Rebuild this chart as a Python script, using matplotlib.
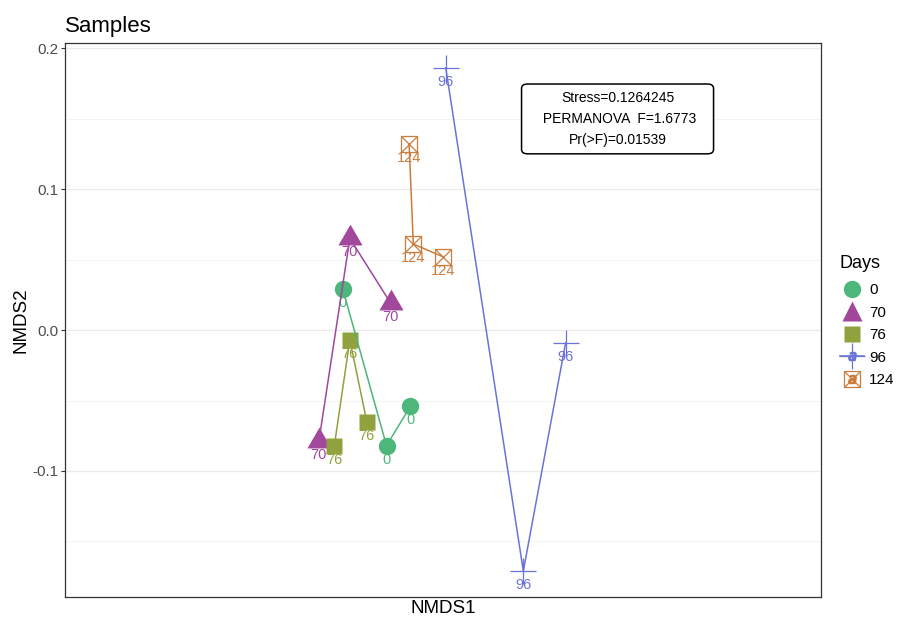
import matplotlib
matplotlib.use("Agg")
import matplotlib.pyplot as plt
from matplotlib.lines import Line2D
from matplotlib.patches import FancyBboxPatch
from matplotlib.legend_handler import HandlerTuple

plt.rcParams['font.family'] = ['Liberation Sans', 'DejaVu Sans']

# NMDS scores per sample, grouped by day (path order as drawn)
days = ['0', '70', '76', '96', '124']
nmds1 = {
    '0':   [-0.071, -0.040, -0.023],
    '70':  [-0.088, -0.066, -0.037],
    '76':  [-0.077, -0.066, -0.054],
    '96':  [0.002, 0.057, 0.087],
    '124': [-0.024, -0.021, 0.000],
}
nmds2 = {
    '0':   [0.029, -0.082, -0.054],
    '70':  [-0.079, 0.065, 0.019],
    '76':  [-0.082, -0.007, -0.065],
    '96':  [0.186, -0.171, -0.009],
    '124': [0.132, 0.061, 0.052],
}
colors = {'0': '#4DB67B', '70': '#A1479C', '76': '#8FA23D',
          '96': '#6B74D6', '124': '#CC7B3B'}
stress_text = "Stress=0.1264245\n PERMANOVA  F=1.6773\nPr(>F)=0.01539"

# triangle centred on its centroid, like ggplot's shape 17
tri = [(0, 1), (-0.866, -0.5), (0.866, -0.5), (0, 1)]

fig = plt.figure(figsize=(9.01, 6.19), dpi=100)
ax = fig.add_axes([0.0721, 0.0355, 0.8390, 0.8950])

def draw_marker(day, x, y):
    c = colors[day]
    if day == '0':
        ax.plot(x, y, 'o', ms=12.5, color=c, mec='none', zorder=3)
    elif day == '70':
        ax.plot(x, y, ls='none', marker=tri, ms=20, color=c, mec='none', zorder=3)
    elif day == '76':
        ax.plot(x, y, 's', ms=12, color=c, mec='none', zorder=3)
    elif day == '96':
        ax.plot(x, y, '+', ms=19, color=c, mew=0.9, zorder=3)
    else:
        ax.plot(x, y, 's', ms=12, mfc='none', mec=c, mew=0.9, zorder=3)
        ax.plot(x, y, 'x', ms=11.5, color=c, mew=0.9, zorder=3)

for d in days:
    xs, ys = nmds1[d], nmds2[d]
    ax.plot(xs, ys, '-', color=colors[d], lw=1.1, zorder=4)
    draw_marker(d, xs, ys)
    for x, y in zip(xs, ys):
        ax.annotate(d, (x, y), xytext=(0, -10), textcoords='offset points',
                    ha='center', va='center', fontsize=10.5, color=colors[d],
                    zorder=2.5)

ax.set_xlim(-0.268, 0.268)
ax.set_ylim(-0.1894, 0.2036)
ax.set_yticks([-0.1, 0.0, 0.1, 0.2])
ax.set_yticklabels(['-0.1', '0.0', '0.1', '0.2'])
ax.set_yticks([-0.15, -0.05, 0.05, 0.15], minor=True)
ax.set_xticks([])
ax.grid(axis='y', which='major', color='#EBEBEB', lw=1.0)
ax.grid(axis='y', which='minor', color='#F2F2F2', lw=0.6)
ax.set_axisbelow(True)
ax.tick_params(axis='y', which='major', length=3, color='#333333',
               labelsize=11, labelcolor='#4D4D4D', pad=2)
ax.tick_params(axis='y', which='minor', length=0)
for s in ax.spines.values():
    s.set_color('#333333')
    s.set_linewidth(0.9)

ax.set_xlabel('NMDS1', fontsize=13.5, labelpad=2)
ax.set_ylabel('NMDS2', fontsize=13.5, labelpad=2)
ax.set_title('Samples', loc='left', fontsize=16, pad=8)

# stress / permanova label box
box = FancyBboxPatch((0.604, 0.800), 0.254, 0.126, transform=ax.transAxes,
                     boxstyle='round,pad=0,rounding_size=0.008',
                     fc='white', ec='black', lw=1.1, zorder=6,
                     mutation_aspect=0.126 / 0.254 * 2)
ax.add_patch(box)
ax.text(0.731, 0.863, stress_text, transform=ax.transAxes, ha='center',
        va='center', fontsize=10, linespacing=1.6, zorder=7)

# legend handles
def key(d):
    c = colors[d]
    if d == '0':
        return Line2D([], [], marker='o', ls='none', ms=12.5, color=c, mec='none')
    if d == '70':
        return Line2D([], [], marker='^', ls='none', ms=14, color=c, mec='none')
    if d == '76':
        return Line2D([], [], marker='s', ls='none', ms=12, color=c, mec='none')
    line = Line2D([], [], ls='-', lw=1.1, color=c)
    a = Line2D([], [], marker='$a$', ls='none', ms=6, color=c)
    if d == '96':
        return (line, Line2D([], [], marker='+', ls='none', ms=19, color=c, mew=0.9), a)
    return (Line2D([], [], marker='s', ls='none', ms=12, mfc='none', mec=c, mew=0.9),
            Line2D([], [], marker='x', ls='none', ms=11.5, color=c, mew=0.9), a)

handles = [key(d) for d in days]
leg = fig.legend(handles, days, loc='upper left', bbox_to_anchor=(0.925, 0.598),
                 frameon=False, title='Days', title_fontsize=13, fontsize=11,
                 handler_map={tuple: HandlerTuple(ndivide=1, pad=0)},
                 handlelength=1.6, handletextpad=0.35, labelspacing=0.55,
                 borderaxespad=0)
leg._legend_box.align = 'left'
leg._legend_box.sep = 0.55 * 11 + 2.2

fig.savefig('out.png', dpi=100)
